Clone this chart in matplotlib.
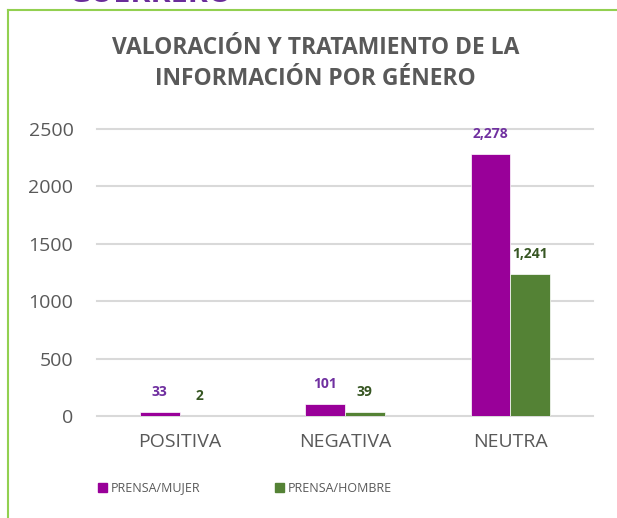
import matplotlib
matplotlib.use("Agg")
import matplotlib.pyplot as plt
import numpy as np
from matplotlib.lines import Line2D
from matplotlib.patches import Patch

categories = ["POSITIVA", "NEGATIVA", "NEUTRA"]
mujer = [33, 101, 2278]
hombre = [2, 39, 1241]
labels_mujer = ["33", "101", "2,278"]
labels_hombre = ["2", "39", "1,241"]
yticks = [0, 500, 1000, 1500, 2000, 2500]

plt.rcParams["font.family"] = ["Open Sans", "DejaVu Sans"]

purple = "#990099"
green = "#548235"
gray = "#595959"

fig = plt.figure(figsize=(6.17, 5.18), dpi=100)
ax = fig.add_axes([97 / 617, 1 - 416 / 518, 496 / 617, 287 / 518])

x = np.arange(len(categories))
w = 0.24
ax.bar(x - w / 2, mujer, w, color=purple, edgecolor="white", linewidth=0.5, zorder=3)
ax.bar(x + w / 2, hombre, w, color=green, edgecolor="white", linewidth=0.5, zorder=3)

for xi, v, s in zip(x, mujer, labels_mujer):
    ax.annotate(s, (xi - w / 2, v), xytext=(0, 20), textcoords="offset pixels",
                ha="center", va="center", fontsize=10, fontweight="bold", color="#7030A0")
for xi, v, s in zip(x, hombre, labels_hombre):
    ax.annotate(s, (xi + w / 2, v), xytext=(0, 20), textcoords="offset pixels",
                ha="center", va="center", fontsize=10, fontweight="bold", color="#375623")

ax.set_xlim(-0.5, 2.5)
ax.set_ylim(0, 2500)
ax.set_yticks(yticks)
ax.set_xticks(x)
ax.set_xticklabels(categories)
for y in yticks:
    ax.axhline(y, color="#D9D9D9", linewidth=1.5, zorder=1, clip_on=False)
for s in ax.spines.values():
    s.set_visible(False)
ax.tick_params(length=0, labelsize=14, colors=gray)
ax.tick_params(axis="x", pad=12)
ax.tick_params(axis="y", pad=17)

fig.text(0.511, 1 - 48 / 518, "VALORACIÓN Y TRATAMIENTO DE LA", ha="center", va="center",
         fontsize=16.5, fontweight="bold", color=gray)
fig.text(0.511, 1 - 79 / 518, "INFORMACIÓN POR GÉNERO", ha="center", va="center",
         fontsize=16.5, fontweight="bold", color=gray)

# cut-off heading above the frame
fig.text(150 / 617, 1 + 6 / 518, "GUERRERO", ha="center", va="center",
         fontsize=22, fontweight="bold", color="#6A2C9A")

# green frame
fig.add_artist(Line2D([8 / 617, 8 / 617], [0, 1 - 10 / 518], color="#92D050", linewidth=1.5))
fig.add_artist(Line2D([8 / 617, 1], [1 - 10 / 518, 1 - 10 / 518], color="#92D050", linewidth=1.5))

handles = [Patch(color=purple, label="PRENSA/MUJER"), Patch(color=green, label="PRENSA/HOMBRE")]
leg = fig.legend(handles=handles, loc="center left", bbox_to_anchor=(87 / 617, 1 - 488 / 518),
                 ncol=2, frameon=False, fontsize=9, handlelength=0.7, handleheight=0.7,
                 handletextpad=0.3, columnspacing=6.0)
for t in leg.get_texts():
    t.set_color(gray)

fig.savefig("out.png", dpi=100)
